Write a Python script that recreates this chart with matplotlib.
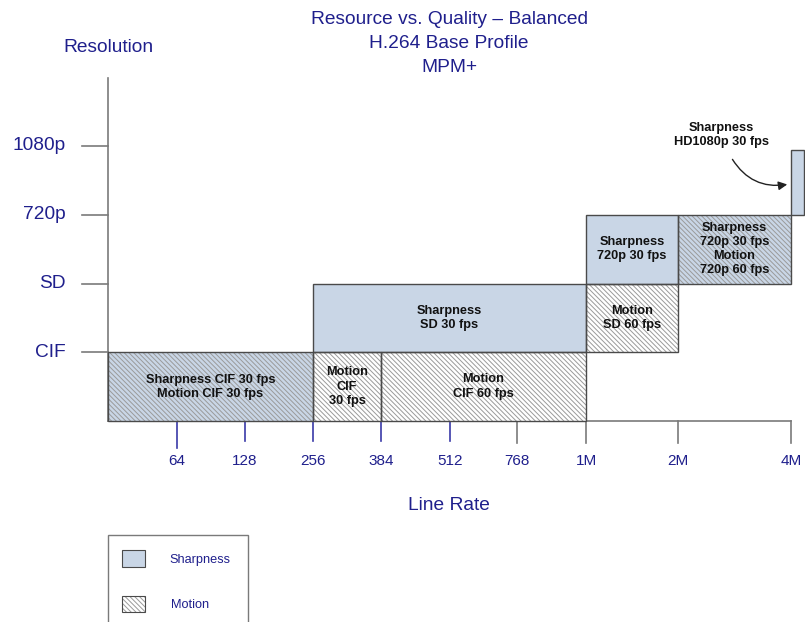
import matplotlib
matplotlib.use("Agg")
import matplotlib.pyplot as plt
from matplotlib.patches import Rectangle, FancyArrowPatch

plt.rcParams['font.family'] = ['Liberation Sans', 'DejaVu Sans']
plt.rcParams['hatch.linewidth'] = 0.7

# ---- data -------------------------------------------------------------
title_lines = ["Resource vs. Quality \u2013 Balanced", "H.264 Base Profile", "MPM+"]
resolution_levels = ["CIF", "SD", "720p", "1080p"]
rate_labels = ["64", "128", "256", "384", "512", "768", "1M", "2M", "4M"]

# blocks: (start rate, end rate, bottom level, top level, kind, label)
block_start = ["0", "256", "384", "256", "1M", "1M", "2M", "4M"]
block_end = ["256", "384", "1M", "1M", "2M", "2M", "4M", "max"]
block_bottom = [0, 0, 0, 1, 1, 2, 2, 3]
block_top = [1, 1, 1, 2, 2, 3, 3, 3.94]
block_kind = ["both", "motion", "motion", "sharp", "motion", "sharp", "both", "sharp"]
block_text = [
    "Sharpness CIF 30 fps\nMotion CIF 30 fps",
    "Motion\nCIF\n30 fps",
    "Motion\nCIF 60 fps",
    "Sharpness\nSD 30 fps",
    "Motion\nSD 60 fps",
    "Sharpness\n720p 30 fps",
    "Sharpness\n720p 30 fps\nMotion\n720p 60 fps",
    "",
]
callout_text = "Sharpness\nHD1080p 30 fps"

# ---- scales -----------------------------------------------------------
# horizontal line-rate scale (uneven spacing, as on the diagram)
RATE_X = {"0": 108, "64": 177, "128": 245, "256": 313, "384": 381, "512": 450,
          "768": 517, "1M": 586, "2M": 678, "4M": 791, "max": 804}
BASE_Y = 421.0     # pixel row of the baseline
LEVEL_H = 68.75    # pixels per resolution level
W, H = 805, 622


def ly(px):
    """pixel row -> level units"""
    return (BASE_Y - px) / LEVEL_H


NAVY = '#1f1f8c'
BLUE = '#c9d6e6'
EDGE = '#4a4a4a'
AXIS = '#7a7a7a'
HATCH_COLOR = '#9a9a9a'
HATCH = '\\' * 7


def box(x0, y0, w, h, face, hatched, lw=1.0):
    """filled rectangle, optional light hatch, dark outline"""
    ax.add_patch(Rectangle((x0, y0), w, h, facecolor=face, edgecolor='none',
                           lw=0, zorder=2))
    if hatched:
        ax.add_patch(Rectangle((x0, y0), w, h, facecolor='none',
                               edgecolor=HATCH_COLOR, hatch=HATCH, lw=0, zorder=2.1))
    ax.add_patch(Rectangle((x0, y0), w, h, facecolor='none', edgecolor=EDGE,
                           lw=lw, zorder=2.2))


fig = plt.figure(figsize=(W / 100, H / 100), dpi=100)
ax = fig.add_axes([0, 0, 1, 1])
ax.set_xlim(0, W)
ax.set_ylim(ly(H), ly(0))
ax.axis('off')

# titles
for i, line in enumerate(title_lines):
    ax.text(449, ly(20 + 24 * i), line, ha='center', va='center',
            fontsize=13.8, color=NAVY)
ax.text(108, ly(48), "Resolution", ha='center', va='center', fontsize=13.8, color=NAVY)
ax.text(449, ly(505), "Line Rate", ha='center', va='center', fontsize=13.8, color=NAVY)

# blocks
for s, e, b, t, k, txt in zip(block_start, block_end, block_bottom, block_top,
                              block_kind, block_text):
    x0, x1 = RATE_X[s], RATE_X[e]
    face = 'white' if k == 'motion' else BLUE
    box(x0, b, x1 - x0, t - b, face, k in ('motion', 'both'))
    if txt:
        ax.text((x0 + x1) / 2, (b + t) / 2, txt, ha='center', va='center',
                fontsize=9.2, fontweight='bold', color='#111111',
                linespacing=1.25, zorder=3)

# y axis and level ticks
ax.plot([108, 108], [0, ly(78)], color=AXIS, lw=1.2, zorder=1)
for i, name in enumerate(resolution_levels):
    lvl = i + 1
    ax.plot([82, 108], [lvl, lvl], color=AXIS, lw=1.2, zorder=1)
    ax.text(66, lvl, name, ha='right', va='center', fontsize=13.8, color=NAVY)

# x axis and rate ticks
ax.plot([108, RATE_X["4M"]], [0, 0], color=AXIS, lw=1.2, zorder=1)
for i, lab in enumerate(rate_labels):
    x = RATE_X[lab]
    blue_tick = i < 5
    bottom = 448 if lab == "64" else (441 if blue_tick else 443)
    ax.plot([x, x], [0, ly(bottom)], color='#3a3aa8' if blue_tick else AXIS,
            lw=1.2, zorder=1)
    ax.text(x, ly(461), lab, ha='center', va='center', fontsize=11, color=NAVY)

# callout for the 1080p block
ax.text(721, ly(135), callout_text, ha='center', va='center', fontsize=9.2,
        fontweight='bold', color='#111111', linespacing=1.25)
ax.add_patch(FancyArrowPatch((731, ly(157)), (790, ly(184)),
                             connectionstyle="arc3,rad=0.35", arrowstyle='-|>',
                             mutation_scale=13, color='#222222', lw=1.0, zorder=4))

# legend box
ax.add_patch(Rectangle((108, ly(640)), 140, ly(535) - ly(640), facecolor='white',
                       edgecolor=AXIS, lw=1.0, zorder=1))
box(122, ly(567), 23, ly(550) - ly(567), BLUE, False, lw=0.8)
box(122, ly(612), 23, ly(596) - ly(612), 'white', True, lw=0.8)
ax.text(169, ly(560), "Sharpness", ha='left', va='center', fontsize=9.2, color=NAVY)
ax.text(171, ly(605), "Motion", ha='left', va='center', fontsize=9.2, color=NAVY)

fig.savefig("out.png", dpi=100)
